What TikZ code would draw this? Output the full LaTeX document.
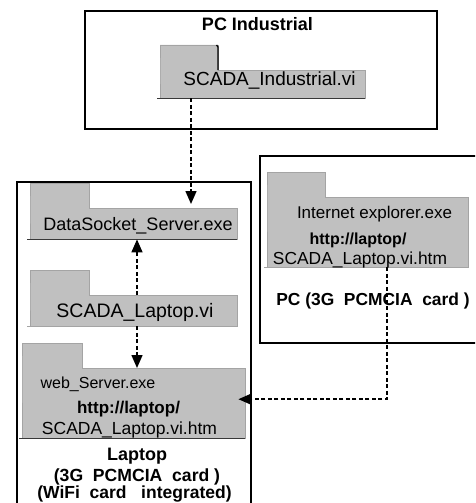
\documentclass[tikz,border=0pt]{standalone}
\usepackage{fontspec}
\setmainfont{Liberation Sans}
\usetikzlibrary{arrows.meta}

\definecolor{foldfill}{HTML}{C0C0C0}
\definecolor{foldedge}{HTML}{A4A4A4}
\definecolor{folddark}{HTML}{383838}

\tikzset{
  frame/.style={draw=black, line width=1.6pt, rectangle, inner sep=0pt, anchor=north west},
  fbody/.style={rectangle, inner sep=0pt, anchor=north west},
  fshape/.style={fill=foldfill, draw=foldedge, line width=0.9pt},
  lbl/.style={anchor=base, inner sep=0pt, font=\fontsize{#1}{20}\selectfont},
  lbl/.default=17.5,
  blbl/.style={anchor=base, inner sep=0pt, font=\fontsize{#1}{20}\selectfont\bfseries},
  blbl/.default=17.5,
  conn/.style={draw=black, line width=1.5pt, dash pattern=on 4pt off 2.5pt,
               -{Triangle[length=13pt,width=11pt]}},
}

% folder: name, top-left of body, body width, body height, tab width, colour of base line
\newcommand\mkfolder[6]{%
  \node[fbody, minimum width=#3pt, minimum height=#4pt] (#1) at (#2) {};
  \filldraw[fshape] (#1.south west) -- (#1.north west) -- ++(0,-25) -- ++(#5,0)
     -- ++(0,25) -| (#1.south east) -- cycle;
  \draw[draw=#6, line width=1.5pt] ([xshift=-3pt]#1.south west) -- (#1.south east);
}

\begin{document}
\begin{tikzpicture}[x=1pt, y=-1pt]
  \useasboundingbox (0,0) rectangle (475,503);
  \clip (0,0) rectangle (475,503);

  % outer machine frames
  \node[frame, minimum width=352pt, minimum height=118pt] (pcind) at (84,10) {};
  \node[frame, minimum width=234pt, minimum height=340pt] (laptopbox) at (16,181) {};
  \node[frame, minimum width=240pt, minimum height=187pt] (pcbox) at (259,155) {};

  \node[blbl=18] (pcindlbl) at (257.5,31) {PC Industrial};

  % program folders
  \mkfolder{ind}{160,70}{205}{28}{58}{folddark}
  \draw[black, line width=1.3pt] ([xshift=58pt]ind.north west) -- ++(0,-23) -- ++(-1.5,-2);
  \mkfolder{ds}{30,208}{207}{31}{59}{folddark}
  \mkfolder{lap}{30,295}{207}{31}{59}{foldedge}
  \mkfolder{web}{22,368}{223}{70}{60}{folddark}
  \mkfolder{ie}{267,197}{201}{70}{58}{foldedge}

  % folder texts
  \node[lbl=19] (indtxt) at (269.5,85) {SCADA\_Industrial.vi};
  \node[lbl=18] (dstxt) at (138,230) {DataSocket\_Server.exe};
  \node[lbl=19.5] (laptxt) at (135,317) {SCADA\_Laptop.vi};
  \node[lbl=16] (webtxt) at (98,388) {web\_Server.exe};
  \node[blbl=17] (webhttp) at (128.5,413) {http://laptop/};
  \node[lbl=17.5] (webhtm) at (129.5,434) {SCADA\_Laptop.vi.htm};
  \node[lbl=17] (ietxt) at (374.5,218) {Internet explorer.exe};
  \node[blbl=16] (iehttp) at (358,244) {http://laptop/};
  \node[lbl=17.4] (iehtm) at (360,264) {SCADA\_Laptop.vi.htm};

  % machine captions
  \node[blbl=17.4] (pclbl) at (373,305) {PC (3G\ \ PCMCIA\ \ card )};
  \node[blbl=18] (laplbl1) at (137,460) {Laptop};
  \node[blbl=17.6] (laplbl2) at (137,481) {(3G\ \ PCMCIA\ \ card )};
  \node[blbl=17.5] (laplbl3) at (134.5,498) {(WiFi\ \ card\ \ \ integrated)};

  % data flow
  \draw[conn] ([xshift=31pt]ind.south west) -- ([xshift=161pt,yshift=4pt]ds.north west);
  \draw[conn] ([xshift=107pt]lap.north west) -- ([xshift=107pt]ds.south west);
  \draw[conn] ([xshift=107pt]lap.south west) -- ([xshift=115pt]web.north west);
  \draw[conn] ([xshift=120pt]ie.south west) |- ([xshift=-7pt,yshift=4pt]web.east);
\end{tikzpicture}
\end{document}
